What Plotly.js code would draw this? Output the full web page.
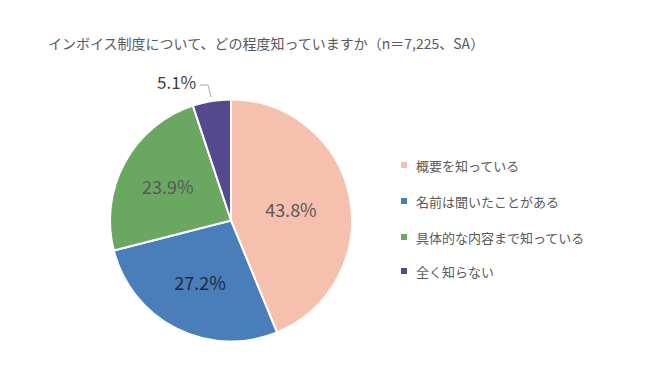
<!DOCTYPE html>
<html><head><meta charset="utf-8">
<script src="https://cdn.plot.ly/plotly-3.0.1.min.js"></script>
<style>html,body{margin:0;padding:0;background:#fff}#c{width:650px;height:380px}</style>
</head><body><div id="c"></div>
<script>
var labels = ['概要を知っている','名前は聞いたことがある','具体的な内容まで知っている','全く知らない'];
var values = [43.8, 27.2, 23.9, 5.1];
var colors = ['#F5C0AE','#4A7EBB','#6AA861','#564A8F'];
var titleText = 'インボイス制度について、どの程度知っていますか（n＝7,225、SA）';

var F = '"Noto Sans CJK JP", "Noto Sans", sans-serif';
var W = 650, H = 380;
function px(x){return x/W;} function py(y){return 1-y/H;}

var trace = {
  type:'pie', labels:labels, values:values, sort:false, direction:'clockwise', rotation:0,
  marker:{colors:colors, line:{color:'#ffffff', width:2}},
  texttemplate:'%{value:.1f}%',
  textposition:['inside','inside','inside','none'],
  insidetextorientation:'horizontal',
  textfont:{family:F, size:18, color:['#595959','#1f2a3a','#595959','#595959']},
  domain:{x:[px(110),px(352)], y:[py(342),py(99)]},
  showlegend:false, hoverinfo:'label+percent'
};

var annotations = [{
  text:titleText, x:px(266), y:py(43), xref:'paper', yref:'paper', xanchor:'center', yanchor:'middle',
  showarrow:false, font:{family:F, size:14, color:'#595959'}
},{
  text:values[3].toFixed(1)+'%', x:px(198), y:py(81), xref:'paper', yref:'paper', xanchor:'right', yanchor:'middle',
  showarrow:false, font:{family:F, size:17, color:'#404040'}
}];
var shapes = [{
  type:'path', xref:'paper', yref:'paper',
  path:'M '+px(200)+','+py(85)+' L '+px(208)+','+py(85)+' L '+px(211)+','+py(97),
  line:{color:'#A6A6A6', width:1}
}];
var legY = [165, 201, 237, 271];
labels.forEach(function(l,i){
  shapes.push({type:'rect', xref:'paper', yref:'paper', x0:px(401), x1:px(407), y0:py(legY[i]-3), y1:py(legY[i]+3),
    fillcolor:colors[i], line:{width:0}});
  annotations.push({text:l, x:px(414), y:py(legY[i]), xref:'paper', yref:'paper', xanchor:'left', yanchor:'middle',
    showarrow:false, font:{family:F, size:13, color:'#595959'}});
});

Plotly.newPlot('c',[trace],{
  width:W, height:H, margin:{l:0,r:0,t:0,b:0}, paper_bgcolor:'#fff',
  annotations:annotations, shapes:shapes, showlegend:false
},{staticPlot:true});
</script></body></html>
